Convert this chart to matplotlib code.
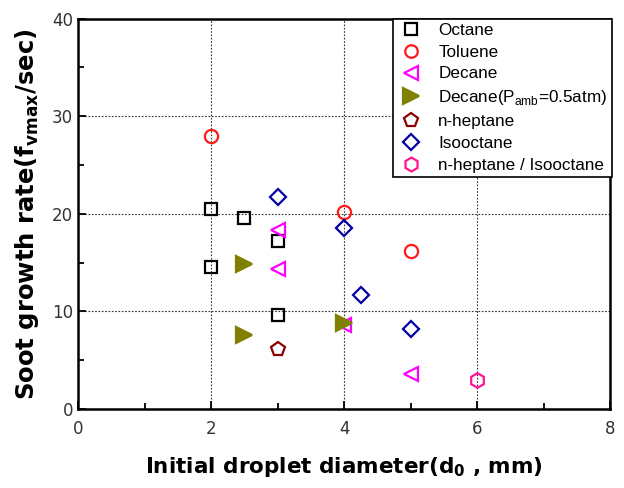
import matplotlib.pyplot as plt
from matplotlib.ticker import MultipleLocator

# Data
octane_d = [2.0, 2.0, 2.5, 3.0, 3.0]
octane_r = [20.5, 14.5, 19.6, 17.2, 9.6]

toluene_d = [2.0, 4.0, 5.0]
toluene_r = [28.0, 20.2, 16.2]

decane_d = [3.0, 3.0, 4.0, 5.0]
decane_r = [18.3, 14.3, 8.6, 3.6]

decane05_d = [2.5, 2.5, 4.0]
decane05_r = [14.8, 7.6, 8.8]

heptane_d = [3.0]
heptane_r = [6.1]

isooctane_d = [3.0, 4.0, 4.25, 5.0]
isooctane_r = [21.7, 18.5, 11.7, 8.2]

mix_d = [6.0]
mix_r = [3.0]

plt.rcParams["font.family"] = "DejaVu Sans"

fig = plt.figure(figsize=(6.24, 4.88), dpi=100)
ax = fig.add_axes([0.125, 0.162, 0.853, 0.8])

ms = 9.5
mew = 1.6
ax.plot(octane_d, octane_r, "s", ms=ms - 1, mfc="none", mec="black", mew=mew, label="Octane")
ax.plot(toluene_d, toluene_r, "o", ms=ms, mfc="none", mec="#ff1a1a", mew=mew, label="Toluene")
ax.plot(decane_d, decane_r, "<", ms=ms + 1, mfc="none", mec="#ff00ff", mew=mew, label="Decane")
ax.plot(decane05_d, decane05_r, ">", ms=ms + 2, mfc="#7f7f00", mec="#7f7f00", mew=mew,
        label="Decane(P$_{\\mathregular{amb}}$=0.5atm)")
ax.plot(heptane_d, heptane_r, "p", ms=ms + 1, mfc="none", mec="#8b0000", mew=mew, label="n-heptane")
ax.plot(isooctane_d, isooctane_r, "D", ms=ms - 1, mfc="none", mec="#0000a0", mew=mew, label="Isooctane")
ax.plot(mix_d, mix_r, "h", ms=ms + 1, mfc="none", mec="#ff1493", mew=mew, label="n-heptane / Isooctane")

ax.set_xlim(0, 8)
ax.set_ylim(0, 40)
ax.xaxis.set_major_locator(MultipleLocator(2))
ax.xaxis.set_minor_locator(MultipleLocator(1))
ax.yaxis.set_major_locator(MultipleLocator(10))
ax.yaxis.set_minor_locator(MultipleLocator(5))
ax.tick_params(which="both", direction="in", labelsize=12, labelcolor="#333333")
ax.tick_params(which="major", length=6, width=1.3)
ax.tick_params(which="minor", length=4, width=1.3)
ax.tick_params(axis="x", pad=8)
for s in ax.spines.values():
    s.set_linewidth(1.8)

ax.grid(True, which="major", linestyle=(0, (1.5, 1.5)), color="#333333", linewidth=0.8)

ax.set_xlabel("Initial droplet diameter(d$_\\mathregular{0}$ , mm)", fontsize=15.5,
              fontweight="bold", labelpad=12)
ax.set_ylabel("Soot growth rate(f$_{\\mathregular{vmax}}$/sec)", fontsize=17.5,
              fontweight="bold", labelpad=8)

leg = ax.legend(loc="upper right", bbox_to_anchor=(1.003, 1.0),
                prop={"family": "Liberation Sans", "size": 12.3},
                frameon=True, fancybox=False, edgecolor="black", framealpha=1,
                borderpad=0.25, labelspacing=0.4, handletextpad=0.8, handlelength=1.6,
                borderaxespad=0, markerscale=0.95)
leg.get_frame().set_linewidth(1.2)

fig.savefig("out.png", dpi=100)
